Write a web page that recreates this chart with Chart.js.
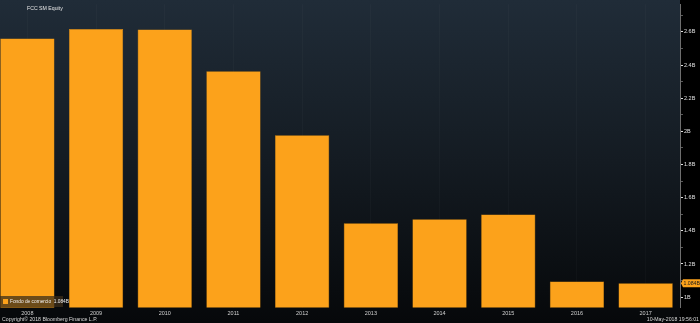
<!DOCTYPE html>
<html>
<head>
<meta charset="utf-8">
<script src="https://cdn.jsdelivr.net/npm/chart.js@4.4.0/dist/chart.umd.min.js"></script>
<style>
    html, body { margin: 0; padding: 0; background: #000; overflow: hidden; }
    #wrap { position: relative; width: 700px; height: 323px; overflow: hidden; }
    #chart { position: absolute; left: -7px; top: 0; }
</style>
</head>
<body>
<div id="wrap"><canvas id="chart" width="707" height="323"></canvas></div>
<script>
    "use strict";

    // datos (miles de millones)
    const years = ['2008', '2009', '2010', '2011', '2012', '2013', '2014', '2015', '2016', '2017'];
    const goodwill = [2.561, 2.618, 2.614, 2.362, 1.976, 1.446, 1.470, 1.499, 1.095, 1.084];
    const tickValues = [1, 1.2, 1.4, 1.6, 1.8, 2, 2.2, 2.4, 2.6];

    const ORANGE = '#fca21b';
    const FONT = '"Liberation Sans", Arial, sans-serif';
    const X0 = 7; // el canvas empieza 7px fuera de la ventana

    const fmtB = (v) => parseFloat(v.toFixed(1)) + 'B';
    const isMajor = (v) => tickValues.some(t => Math.abs(t - v) < 1e-6);

    const decor = {
        id: 'decor',
        beforeDraw(chart) {
            const { ctx, width, height, chartArea } = chart;
            ctx.save();
            const g = ctx.createLinearGradient(0, 0, 0, height);
            g.addColorStop(0, '#202c38');
            g.addColorStop(0.5, '#141b22');
            g.addColorStop(1, '#06080a');
            ctx.fillStyle = g;
            ctx.fillRect(0, 0, chartArea.right, height);
            ctx.fillStyle = '#000';
            ctx.fillRect(chartArea.right, 0, width - chartArea.right, height);
            ctx.restore();
        },
        afterDraw(chart) {
            const { ctx, width, chartArea } = chart;
            const y = chart.scales.y;
            const last = goodwill[goodwill.length - 1];
            ctx.save();

            // título
            ctx.fillStyle = '#e6e6e6';
            ctx.font = '5.2px ' + FONT;
            ctx.textBaseline = 'middle';
            ctx.textAlign = 'left';
            ctx.fillText('FCC SM Equity', X0 + 27, 9);

            // leyenda
            ctx.fillStyle = 'rgba(60,45,25,0.75)';
            ctx.fillRect(X0, 296, 63, 11);
            ctx.fillStyle = ORANGE;
            ctx.fillRect(X0 + 3, 299, 5, 5);
            ctx.fillStyle = '#f0f0f0';
            ctx.font = '4.8px ' + FONT;
            ctx.fillText('Fondo de comercio  ' + last.toFixed(3) + 'B', X0 + 10, 301.5);

            // pie
            ctx.fillStyle = '#d8d8d8';
            ctx.font = '5.2px ' + FONT;
            ctx.fillText('Copyright\u00a9 2018 Bloomberg Finance L.P.', X0 + 2, 319.5);
            ctx.textAlign = 'right';
            ctx.fillText('10-May-2018 19:56:01', width - 1, 319.5);

            // último valor
            const py = y.getPixelForValue(last);
            ctx.fillStyle = ORANGE;
            ctx.beginPath();
            ctx.moveTo(chartArea.right + 1, py);
            ctx.lineTo(chartArea.right + 3, py - 4);
            ctx.lineTo(width, py - 4);
            ctx.lineTo(width, py + 4);
            ctx.lineTo(chartArea.right + 3, py + 4);
            ctx.closePath();
            ctx.fill();
            ctx.fillStyle = '#1a1a1a';
            ctx.font = '5.2px ' + FONT;
            ctx.textAlign = 'left';
            ctx.fillText(last.toFixed(3) + 'B', chartArea.right + 3.5, py + 0.5);
            ctx.restore();
        }
    };

    new Chart(document.getElementById('chart'), {
        type: 'bar',
        data: {
            labels: years,
            datasets: [{
                label: 'Fondo de comercio',
                data: goodwill,
                backgroundColor: ORANGE,
                borderColor: '#e8920f',
                borderWidth: 0.5,
                borderSkipped: 'bottom',
                barPercentage: 0.79,
                categoryPercentage: 1
            }]
        },
        options: {
            responsive: false,
            animation: false,
            devicePixelRatio: 1,
            layout: { padding: 0 },
            plugins: {
                legend: { display: false },
                tooltip: { enabled: false }
            },
            scales: {
                x: {
                    offset: true,
                    grid: {
                        offset: false,
                        color: 'rgba(255,255,255,0.022)',
                        drawTicks: false
                    },
                    border: { display: false },
                    ticks: {
                        color: '#d0d0d0',
                        font: { family: FONT, size: 5.5 },
                        padding: 3,
                        maxRotation: 0
                    },
                    afterFit(scale) { scale.height = 15.5; }
                },
                y: {
                    position: 'right',
                    min: 0.9375,
                    max: 2.7666,
                    grid: {
                        drawOnChartArea: false,
                        tickLength: 3,
                        color: (c) => (c.tick && isMajor(c.tick.value)) ? '#e0e0e0' : '#5a5a5a'
                    },
                    border: { color: '#6e6e6e', width: 1 },
                    ticks: {
                        stepSize: 0.1,
                        includeBounds: false,
                        autoSkip: false,
                        color: '#e0e0e0',
                        padding: 1,
                        font: { family: FONT, size: 5.5 },
                        callback: (v) => isMajor(v) ? fmtB(v) : ''
                    },
                    afterFit(scale) { scale.width = 20; }
                }
            }
        },
        plugins: [decor]
    });
</script>
</body>
</html>
